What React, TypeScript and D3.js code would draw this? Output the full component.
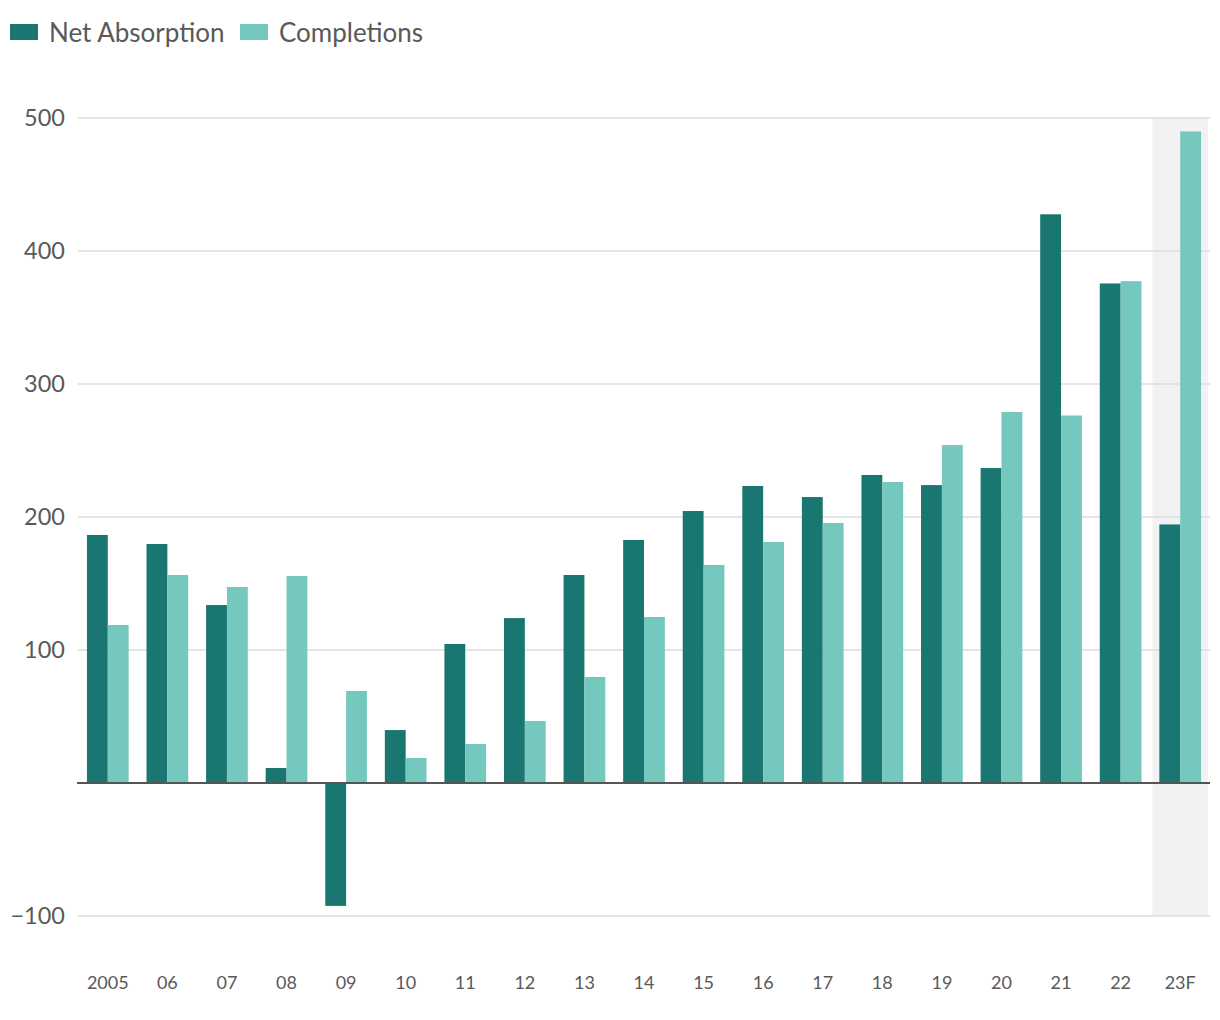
import React from "react";
import * as d3 from "d3";

const categories = ["2005", "06", "07", "08", "09", "10", "11", "12", "13", "14", "15", "16", "17", "18", "19", "20", "21", "22", "23F"];
const netAbsorption = [186.5, 179.7, 133.8, 11.3, -92.4, 39.8, 104.5, 124, 156.4, 182.7, 204.5, 223.3, 215, 231.6, 224, 236.8, 427.6, 375.6, 194.4];
const completions = [118.8, 156.4, 147.4, 155.6, 69.2, 18.8, 29.3, 46.6, 79.7, 124.8, 163.9, 181.2, 195.5, 226.3, 254.1, 279, 276.3, 377.3, 489.9];
const yTicks = [-100, 100, 200, 300, 400, 500];
const seriesNames = ["Net Absorption", "Completions"];
const forecastCategory = "23F";

const DARK = "#1a7671";
const LIGHT = "#74c8be";
const FONT = "'Source Sans Pro', Lato, 'Noto Sans', sans-serif";

export default function App() {
  const width = 1220;
  const height = 1020;
  const left = 78;
  const right = 1210;
  const y = d3.scaleLinear().domain([-100, 500]).range([916, 118]);
  const x = d3.scaleBand<string>().domain(categories).range([left, right]).paddingInner(0.3).paddingOuter(0.15);
  const outer = d3.scaleBand<string>().domain(categories).range([left, right]).padding(0);
  const sub = d3.scaleBand<string>().domain(seriesNames).range([0, x.bandwidth()]);

  const bandX = outer(forecastCategory)!;

  return (
    <div style={{ position: "absolute", left: 0, top: 0 }}>
      <svg width={width} height={height} style={{ display: "block", fontFamily: FONT }}>
        <rect x={0} y={0} width={width} height={height} fill="#fff" />
        {/* forecast shading */}
        <rect x={bandX + 2} y={y(500)} width={outer.bandwidth() - 4} height={y(-100) - y(500)} fill="#f2f2f2" />
        {/* gridlines */}
        {yTicks.map((t) => (
          <line key={t} x1={left} x2={right} y1={y(t)} y2={y(t)} stroke="#dcdcdc" strokeWidth={1.5} />
        ))}
        {/* y tick labels */}
        {yTicks.map((t) => (
          <text key={"l" + t} x={65} y={y(t)} dy="0.35em" textAnchor="end" fontSize={23.5} fill="#595959">
            {t < 0 ? "\u2212" + Math.abs(t) : t}
          </text>
        ))}
        {/* bars */}
        {categories.map((c, i) => {
          const vals = [netAbsorption[i], completions[i]];
          return (
            <g key={c} transform={`translate(${x(c)},0)`}>
              {vals.map((v, j) => (
                <rect
                  key={j}
                  x={sub(seriesNames[j])}
                  y={Math.min(y(v), y(0))}
                  width={sub.bandwidth()}
                  height={Math.abs(y(v) - y(0))}
                  fill={j === 0 ? DARK : LIGHT}
                />
              ))}
            </g>
          );
        })}
        {/* zero line */}
        <line x1={left - 1} x2={right} y1={y(0)} y2={y(0)} stroke="#555" strokeWidth={2} />
        {/* x labels */}
        {categories.map((c) => (
          <text key={"x" + c} x={outer(c)! + outer.bandwidth() / 2} y={983} dy="0.35em" textAnchor="middle" fontSize={18} fill="#595959">
            {c}
          </text>
        ))}
        {/* legend */}
        <rect x={10} y={24} width={28} height={16} fill={DARK} />
        <text x={49} y={33} dy="0.35em" fontSize={26} fill="#595959">{seriesNames[0]}</text>
        <rect x={240} y={24} width={28} height={16} fill={LIGHT} />
        <text x={279} y={33} dy="0.35em" fontSize={26} fill="#595959">{seriesNames[1]}</text>
      </svg>
    </div>
  );
}
